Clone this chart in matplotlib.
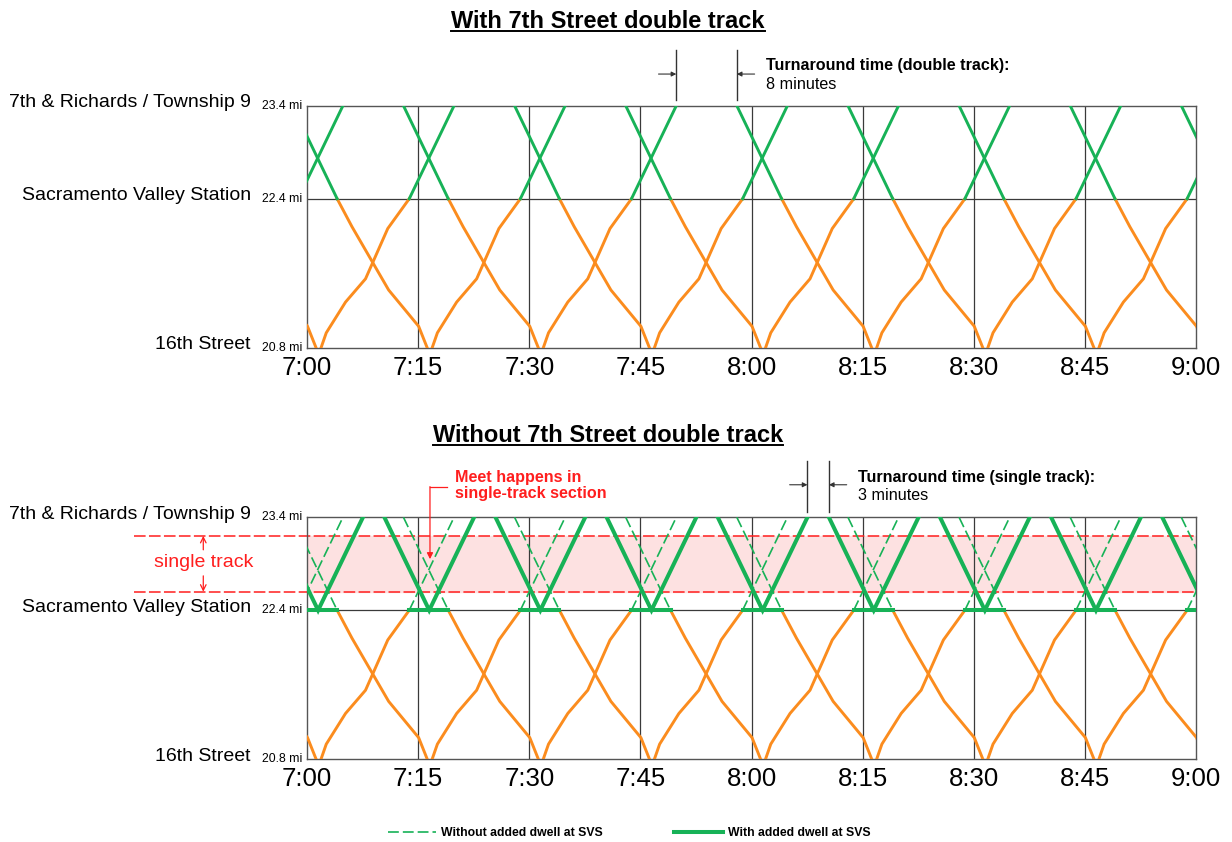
import numpy as np
import matplotlib.pyplot as plt
from matplotlib.lines import Line2D

plt.rcParams['font.family'] = ['Liberation Sans', 'DejaVu Sans']

# time axis, minutes after 7:00
tick_min = [0, 15, 30, 45, 60, 75, 90, 105, 120]
tick_lbl = ['7:00', '7:15', '7:30', '7:45', '8:00', '8:15', '8:30', '8:45', '9:00']

stations = ['7th & Richards / Township 9', 'Sacramento Valley Station', '16th Street']
station_mi = [23.4, 22.4, 20.8]
mi_lbl = ['23.4 mi', '22.4 mi', '20.8 mi']
single_track = [22.6, 23.2]

# northbound 16th St -> SVS (minutes after leaving 16th St, milepost)
nb_run_t = [0, 0.7, 3.3, 6.0, 9.0, 11.9]
nb_run_mi = [20.8, 20.96, 21.29, 21.54, 22.08, 22.4]
# southbound SVS -> 16th St (minutes after leaving SVS, milepost)
sb_run_t = [0, 2.0, 6.95, 11.0, 12.15]
sb_run_mi = [22.4, 22.1, 21.42, 21.03, 20.8]
# running time SVS <-> 7th & Richards (min)
upper_run = 6.05

# schedule
nb_leave_16th = [-13.1, 1.9, 16.9, 31.9, 46.9, 61.9, 76.9, 91.9, 106.9]
sb_leave_svs = [-10.93, 4.07, 19.07, 34.07, 49.07, 64.07, 79.07, 94.07, 109.07, 124.07]
# with added dwell at SVS: trains pass each other at SVS
svs_meet = [1.5, 16.5, 31.5, 46.5, 61.5, 76.5, 91.5, 106.5, 121.5]

ORANGE = '#FB8C1E'
GREEN = '#17B257'
RED = '#FF1E1E'
GRID = '#3a3a3a'

fig = plt.figure(figsize=(12.32, 8.42), dpi=100)
W, H = 1232, 842
ax_top = fig.add_axes([307 / W, 1 - 347.7 / H, 889 / W, 242 / H])
ax_bot = fig.add_axes([307 / W, 1 - 759 / H, 889 / W, 241.7 / H])


def base(ax):
    ax.set_xlim(0, 120)
    ax.set_ylim(20.8, 23.4)
    ax.set_xticks(tick_min, tick_lbl, fontsize=18.5)
    ax.set_yticks([])
    ax.tick_params(axis='x', length=0, pad=6)
    for s in ax.spines.values():
        s.set_color('#555555')
        s.set_linewidth(1.0)
    for m in tick_min[1:-1]:
        ax.axvline(m, color=GRID, lw=0.9, zorder=1)
    ax.axhline(22.4, color=GRID, lw=0.9, zorder=1)
    tr = ax.get_yaxis_transform()
    for name, mi, lbl in zip(stations, station_mi, mi_lbl):
        ax.text(-0.063, mi + 0.03, name, transform=tr, ha='right', va='center', fontsize=14)
        ax.text(-0.005, mi, lbl, transform=tr, ha='right', va='center', fontsize=8.8)
    # lower section (same in both cases)
    for d in nb_leave_16th:
        ax.plot(d + np.array(nb_run_t), nb_run_mi, color=ORANGE, lw=2.1, zorder=3)
    for d in sb_leave_svs:
        ax.plot(d + np.array(sb_run_t), sb_run_mi, color=ORANGE, lw=2.1, zorder=3)


def upper_no_dwell(ax, **kw):
    for d in nb_leave_16th:
        a = d + nb_run_t[-1]
        ax.plot([a, a + upper_run], [22.4, 23.4], color=GREEN, **kw)
    for d in sb_leave_svs:
        ax.plot([d - upper_run, d], [23.4, 22.4], color=GREEN, **kw)


def turn_marks(ax, ta, tb, y_arrow, y_top):
    for x in (ta, tb):
        ax.plot([x, x], [23.46, y_top], color='#333333', lw=1.0, clip_on=False)
    for x, x0 in ((ta, ta - 2.4), (tb, tb + 2.4)):
        ax.annotate('', xy=(x, y_arrow), xytext=(x0, y_arrow), annotation_clip=False,
                    arrowprops=dict(arrowstyle='-|>', color='#333333', lw=0.8,
                                    mutation_scale=7, shrinkA=0, shrinkB=0))


# ---- top panel: with double track
base(ax_top)
upper_no_dwell(ax_top, lw=2.1, zorder=3)
turn_marks(ax_top, nb_leave_16th[3] + nb_run_t[-1] + upper_run, sb_leave_svs[5] - upper_run,
           23.74, 24.0)
ax_top.text(61.9, 23.83, 'Turnaround time (double track):', fontsize=11.6, weight='bold',
            va='center', ha='left')
ax_top.text(61.9, 23.63, '8 minutes', fontsize=11.6, va='center', ha='left')

# ---- bottom panel: without double track
base(ax_bot)
ax_bot.axhspan(single_track[0], single_track[1], color='#FDE1E1', zorder=0)
for y in single_track:
    ax_bot.plot([-23.3, 120], [y, y], color=RED, lw=1.1, dashes=(7.6, 2.2),
                clip_on=False, zorder=2)
upper_no_dwell(ax_bot, lw=1.2, dashes=(6.5, 2.4), zorder=3)
for m in svs_meet:
    ax_bot.plot([m - upper_run, m, m + upper_run], [23.4, 22.4, 23.4], color=GREEN,
                lw=2.9, zorder=4, solid_joinstyle='miter')
for d, s in zip(nb_leave_16th, sb_leave_svs[1:]):
    ax_bot.plot([d + nb_run_t[-1], s], [22.4, 22.4], color=GREEN, lw=2.9, zorder=4)

turn_marks(ax_bot, svs_meet[4] + upper_run, svs_meet[5] - upper_run, 23.75, 24.01)
ax_bot.text(74.4, 23.83, 'Turnaround time (single track):', fontsize=11.6, weight='bold',
            va='center', ha='left')
ax_bot.text(74.4, 23.63, '3 minutes', fontsize=11.6, va='center', ha='left')

# meet callout
ax_bot.text(20.0, 23.74, 'Meet happens in\nsingle-track section', color=RED, fontsize=11.6,
            weight='bold', va='center', ha='left', linespacing=1.1)
ax_bot.plot([18.85, 16.6], [23.73, 23.73], color=RED, lw=0.9, clip_on=False)
ax_bot.annotate('', xy=(16.6, 22.95), xytext=(16.6, 23.73), annotation_clip=False,
                arrowprops=dict(arrowstyle='-|>', color=RED, lw=0.9, mutation_scale=9,
                                shrinkA=0, shrinkB=0))

# single track label
ax_bot.text(-14.0, 22.91, 'single track', color=RED, fontsize=14, ha='center', va='center')
ax_bot.annotate('', xy=(-14.0, single_track[1]), xytext=(-14.0, 23.05), annotation_clip=False,
                arrowprops=dict(arrowstyle='->', color=RED, lw=0.9, shrinkA=0, shrinkB=0))
ax_bot.annotate('', xy=(-14.0, single_track[0]), xytext=(-14.0, 22.77), annotation_clip=False,
                arrowprops=dict(arrowstyle='->', color=RED, lw=0.9, shrinkA=0, shrinkB=0))

# titles (underlined)
titles = []
titles.append(fig.text(608 / W, 1 - 21 / H, 'With 7th Street double track', ha='center',
                       va='center', fontsize=17, weight='bold'))
titles.append(fig.text(608 / W, 1 - 435 / H, 'Without 7th Street double track', ha='center',
                       va='center', fontsize=17, weight='bold'))

# legend
handles = [Line2D([], [], color=GREEN, lw=1.2, dashes=(6.5, 2.4)),
           Line2D([], [], color=GREEN, lw=2.9)]
fig.legend(handles, ['Without added dwell at SVS', 'With added dwell at SVS'], loc='center',
           bbox_to_anchor=(629 / W, 9 / H), ncol=2, frameon=False, handlelength=4,
           columnspacing=5.8, handletextpad=0.4, prop={'weight': 'bold', 'size': 8.8})

fig.canvas.draw()
r = fig.canvas.get_renderer()
for t in titles:
    bb = t.get_window_extent(r)
    y = bb.y0 + 2
    fig.add_artist(Line2D([bb.x0 / W, bb.x1 / W], [y / H, y / H], transform=fig.transFigure,
                          color='black', lw=1.4))

fig.savefig('out.png', dpi=100)
